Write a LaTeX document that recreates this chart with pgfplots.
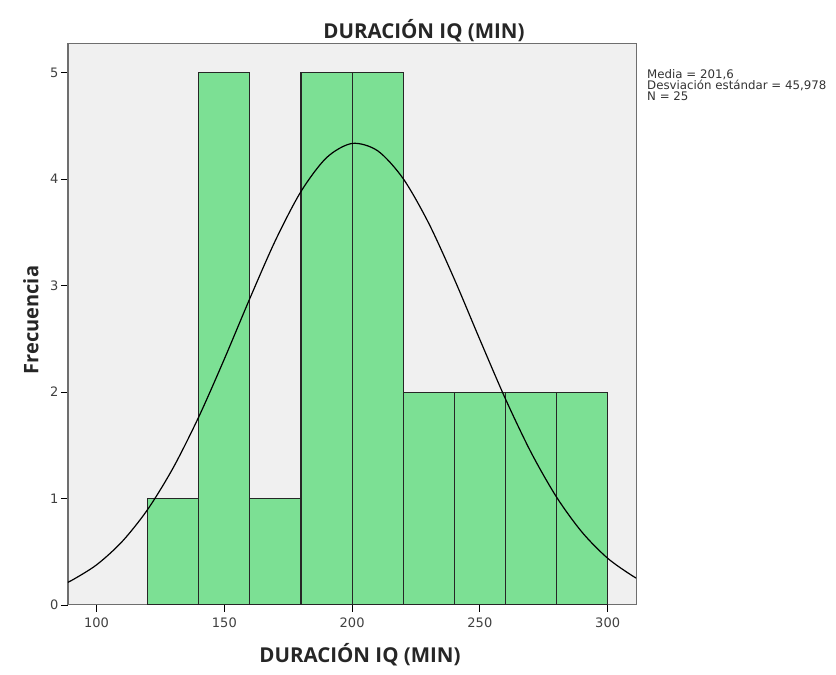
\documentclass[border=0pt]{standalone}
\usepackage{fontspec}
\setmainfont{DejaVu Sans}
\newfontfamily\titlefont{Open Sans}
\usepackage{pgfplots}
\pgfplotsset{compat=1.18}
\definecolor{bgc}{RGB}{240,240,240}
\definecolor{barc}{RGB}{124,224,148}
\definecolor{framec}{RGB}{110,110,110}
\begin{document}
\begin{tikzpicture}
\begin{axis}[
  at={(68pt,70pt)}, anchor=south west,
  width=568pt, height=561pt, scale only axis,
  xmin=88.8, xmax=311.1, ymin=0, ymax=5.27,
  axis background/.style={fill=bgc},
  axis line style={framec, line width=1pt},
  xtick={100,150,200,250,300},
  ytick={0,1,2,3,4,5},
  tick align=outside,
  major tick length=7pt,
  tick style={black, line width=0.8pt},
  xtick pos=bottom, ytick pos=left,
  /pgf/number format/assume math mode=true,
  tick label style={font=\fontsize{13}{15}\selectfont, text=black!75},
  xticklabel style={yshift=-2pt},
  yticklabel style={xshift=1pt},
  clip=true,
]
\addplot[ybar interval, fill=barc, draw=black!85, line width=1.1pt]
coordinates {(120,1) (140,5) (160,1) (180,5) (200,5) (220,2) (240,2) (260,2) (280,2) (300,2)};
\addplot[smooth, black, line width=1.2pt] coordinates {
(85,0.1741) (90,0.2280) (100,0.3776) (110,0.5963) (120,0.8981) (130,1.2904)
(140,1.7683) (150,2.3112) (160,2.8811) (170,3.4257) (180,3.8851) (190,4.2025)
(200,4.3358) (210,4.2666) (220,4.0046) (230,3.5849) (240,3.0611) (250,2.4929)
(260,1.9364) (270,1.4346) (280,1.0138) (290,0.6834) (300,0.4393) (310,0.2693) (315,0.2072)};
\end{axis}
\node[font=\titlefont\bfseries\fontsize{20.5}{24}\selectfont, text=black!85] at (424pt,644pt) {DURACIÓN IQ (MIN)};
\node[font=\titlefont\bfseries\fontsize{20.5}{24}\selectfont, text=black!85] at (360pt,20pt) {DURACIÓN IQ (MIN)};
\node[font=\titlefont\bfseries\fontsize{20}{24}\selectfont, text=black!85, rotate=90] at (31pt,355pt) {Frecuencia};
\node[anchor=north west, align=left, inner sep=0pt, font=\fontsize{11.8}{11.2}\selectfont, text=black!80] at (647pt,606pt) {Media = 201,6\\Desviación estándar = 45,978\\N = 25};
\pgfresetboundingbox
\path (0,0) rectangle (836pt,675pt);
\end{tikzpicture}
\end{document}
